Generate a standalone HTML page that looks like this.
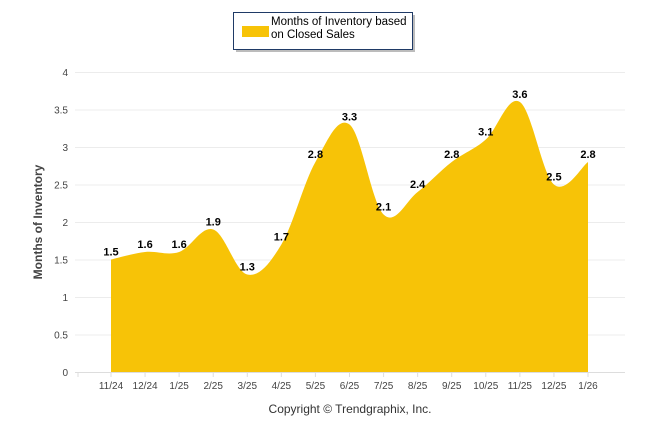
<!DOCTYPE html>
<html><head><meta charset="utf-8"><style>
body{margin:0;background:#fff;width:646px;height:434px;overflow:hidden;font-family:"Liberation Sans",sans-serif}
</style></head><body>
<svg id="chart" width="646" height="434" xmlns="http://www.w3.org/2000/svg">
<g>
<rect x="236" y="15" width="179" height="37" fill="#7a7a7a" opacity="0.5"/>
<rect x="233.5" y="12.5" width="179" height="37" fill="#fff" stroke="#1f3a66" stroke-width="1"/>
<rect x="242" y="26" width="27" height="11" fill="#f7c307"/>
<text x="271" y="25" font-size="11.5" fill="#000">Months of Inventory based</text>
<text x="271" y="38" font-size="11.5" fill="#000">on Closed Sales</text>
</g>
<g id="grid"></g>
<g id="marks"></g>
<text x="0" y="0" transform="translate(42,222) rotate(-90)" text-anchor="middle" font-size="12" font-weight="bold" fill="#444">Months of Inventory</text>
<text x="350" y="413" text-anchor="middle" font-size="12" fill="#333">Copyright © Trendgraphix, Inc.</text>
</svg>
<script>
const categories=["11/24","12/24","1/25","2/25","3/25","4/25","5/25","6/25","7/25","8/25","9/25","10/25","11/25","12/25","1/26"];
const values=[1.5,1.6,1.6,1.9,1.3,1.7,2.8,3.3,2.1,2.4,2.8,3.1,3.6,2.5,2.8];
const yTicks=[0,0.5,1,1.5,2,2.5,3,3.5,4];
const NS="http://www.w3.org/2000/svg";
const L=75,R=625,T=72,B=372,x0=111,x1=588;
const xs=i=>x0+i*(x1-x0)/(categories.length-1);
const ys=v=>B-(v/4)*(B-T);
function mk(t,a,p){const e=document.createElementNS(NS,t);for(const k in a)e.setAttribute(k,a[k]);p.appendChild(e);return e;}
const grid=document.getElementById('grid'),marks=document.getElementById('marks');
yTicks.forEach(v=>{
 const l=mk('line',{x1:L,x2:R,y1:ys(v)+0.5,y2:ys(v)+0.5,stroke:v===0?'#ddd':'#ececec'},grid);
 
 
 const t=mk('text',{x:68,y:ys(v)+4,'text-anchor':'end','font-size':10,fill:'#444'},grid);
 t.textContent=v;
 
 
});
[L+3].concat(categories.map((c,i)=>xs(i))).forEach(x=>{
 const tk=mk('line',{x1:x,x2:x,y1:B,y2:B+5,stroke:'#ddd'},grid);
 
 
});
categories.forEach((c,i)=>{
 const t=mk('text',{x:xs(i),y:389,'text-anchor':'middle','font-size':10,fill:'#444'},grid);
 t.textContent=c;
 
 
});
const pts=values.map((v,i)=>[xs(i),ys(v)]);
let d=`M${pts[0][0]},${B} L${pts[0][0]},${pts[0][1]}`;
const s=0.35;
for(let i=0;i<pts.length-1;i++){
 const p0=pts[Math.max(i-1,0)],p1=pts[i],p2=pts[i+1],p3=pts[Math.min(i+2,pts.length-1)];
 const c1=[p1[0]+(p2[0]-p0[0])*s/2*1.0,p1[1]+(p2[1]-p0[1])*s/2];
 const c2=[p2[0]-(p3[0]-p1[0])*s/2,p2[1]-(p3[1]-p1[1])*s/2];
 d+=` C${c1[0]},${c1[1]} ${c2[0]},${c2[1]} ${p2[0]},${p2[1]}`;
}
d+=` L${pts[pts.length-1][0]},${B} Z`;
const area=mk('path',{d:d,fill:'#f7c307'},marks);


values.forEach((v,i)=>{
 const t=mk('text',{x:xs(i),y:ys(v)-4,'text-anchor':'middle','font-size':11,'font-weight':'bold',fill:'#000'},marks);
 t.textContent=v.toFixed(1);
 
 
});
</script>
</body></html>
